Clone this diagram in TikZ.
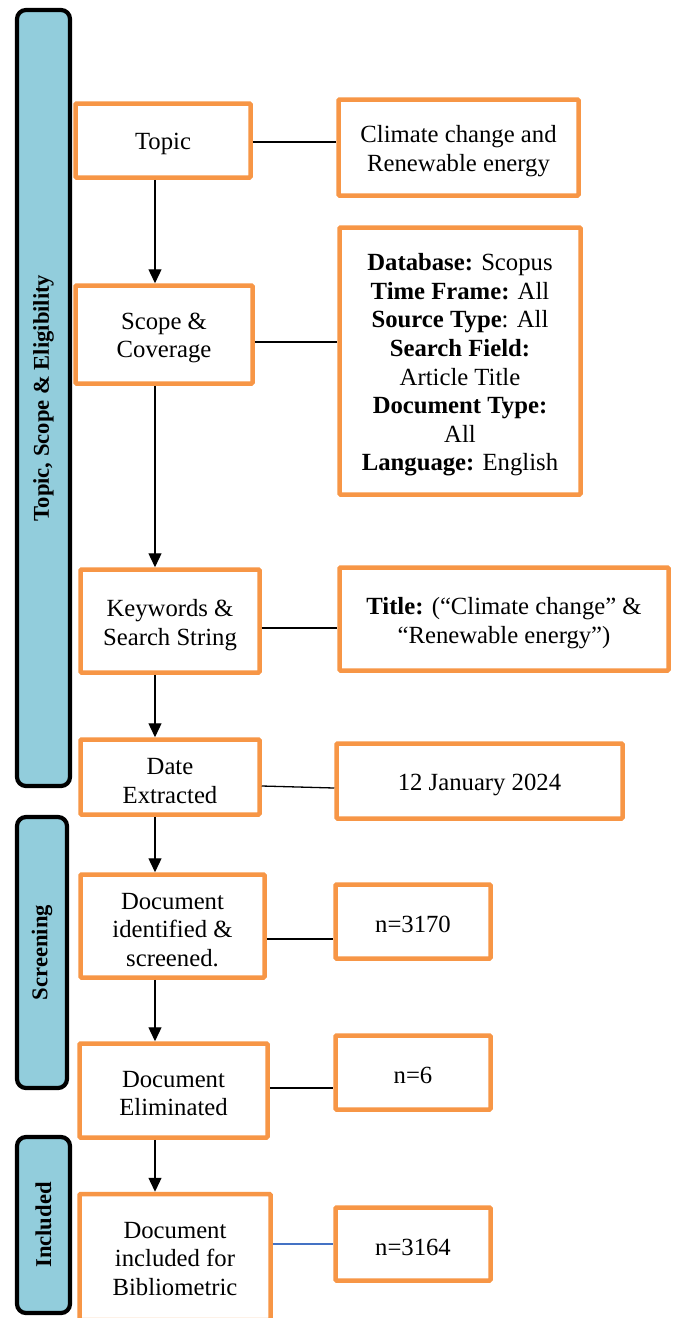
\documentclass[tikz,border=0pt]{standalone}
\usepackage{fontspec}
\setmainfont{Liberation Serif}
\usetikzlibrary{arrows.meta}
\definecolor{boxorange}{HTML}{F79646}
\definecolor{barblue}{HTML}{92CDDC}
\definecolor{linkblue}{HTML}{4472C4}
\begin{document}
\begin{tikzpicture}[x=1pt,y=-1pt,
  obox/.style={draw=boxorange, line width=4.5pt, fill=white, inner sep=0pt, rounded corners=1pt},
  txt/.style={align=center, inner sep=0pt, font=\fontsize{24.7}{28.6}\selectfont},
  sbar/.style={draw=black, line width=4.2pt, fill=barblue, rounded corners=9pt, inner sep=0pt},
  sbtext/.style={rotate=90, inner sep=0pt, font=\bfseries\fontsize{22.6}{26}\selectfont},
  link/.style={draw=black, line width=1.3pt},
  arr/.style={link, -{Triangle[width=13pt,length=14pt]}}]
\useasboundingbox (0,0) rectangle (676,1318);
\clip (0,0) rectangle (676,1318);
\fill[white] (0,0) rectangle (676,1318);

% side bars
\node[sbar, minimum width=53pt, minimum height=776pt] (bar1) at (43.5,398) {};
\node[sbtext] (bar1t) at (bar1.center) {Topic, Scope \& Eligibility};
\node[sbar, minimum width=50pt, minimum height=271pt] (bar2) at (42,952.5) {};
\node[sbtext] (bar2t) at (bar2.center) {Screening};
\node[sbar, minimum width=53pt, minimum height=176pt] (bar3) at (43.5,1225) {};
\node[sbtext] (bar3t) at (bar3.center) {Included};

% left column
\node[obox, minimum width=175pt, minimum height=74pt] (topic) at (163,140.5) {};
\node[txt] (topict) at ([yshift=-3pt]topic.center) {Topic};
\node[obox, minimum width=177pt, minimum height=98pt] (scope) at (164,334.5) {};
\node[txt] (scopet) at ([yshift=-3.5pt]scope.center) {Scope \&\\Coverage};
\node[obox, minimum width=179pt, minimum height=103pt] (kw) at (170,621) {};
\node[txt] (kwt) at ([yshift=-4pt]kw.center) {Keywords \&\\Search String};
\node[obox, minimum width=179pt, minimum height=75pt] (date) at (170,777) {};
\node[txt] (datet) at ([yshift=-4pt]date.center) {Date\\Extracted};
\node[obox, minimum width=184pt, minimum height=103pt] (ident) at (172.5,926) {};
\node[txt] (identt) at ([yshift=-4pt]ident.center) {Document\\identified \&\\screened.};
\node[obox, minimum width=188pt, minimum height=94pt] (elim) at (173.5,1090.5) {};
\node[txt] (elimt) at ([yshift=-3pt]elim.center) {Document\\Eliminated};
\node[obox, minimum width=191pt, minimum height=126pt] (incl) at (175,1257) {};
\node[txt] (inclt) at ([yshift=-2pt]incl.center) {Document\\included for\\Bibliometric};

% right column
\node[obox, minimum width=240pt, minimum height=96pt] (climate) at (458.5,147.5) {};
\node[txt] (climatet) at ([yshift=-3.5pt]climate.center) {Climate change and\\Renewable energy};
\node[obox, minimum width=241pt, minimum height=267pt] (db) at (460,361) {};
\node[txt] (dbt) at ([yshift=-4pt]db.center)
  {\textbf{Database:} Scopus\\\textbf{Time Frame:} All\\\textbf{Source Type}: All\\\textbf{Search Field:}\\Article Title\\\textbf{Document Type:}\\All\\\textbf{Language:} English};
\node[obox, minimum width=329pt, minimum height=103pt] (title) at (504,619) {};
\node[txt] (titlet) at ([yshift=-4pt]title.center)
  {\textbf{Title:} (“Climate change” \&\\“Renewable energy”)};
\node[obox, minimum width=286pt, minimum height=75pt] (jan) at (479.5,781) {};
\node[txt] (jant) at ([yshift=-3.5pt]jan.center) {12 January 2024};
\node[obox, minimum width=155pt, minimum height=74pt] (n1) at (413,921.5) {};
\node[txt] (n1t) at ([yshift=-3pt]n1.center) {n=3170};
\node[obox, minimum width=155pt, minimum height=74pt] (n2) at (413,1072.5) {};
\node[txt] (n2t) at ([yshift=-3pt]n2.center) {n=6};
\node[obox, minimum width=155pt, minimum height=73pt] (n3) at (413,1244) {};
\node[txt] (n3t) at ([yshift=-3pt]n3.center) {n=3164};

% vertical arrows
\coordinate (ax) at (155,0);
\draw[arr] (topic.south -| ax) -- (scope.north -| ax);
\draw[arr] (scope.south -| ax) -- (kw.north -| ax);
\draw[arr] (kw.south -| ax) -- (date.north -| ax);
\draw[arr] (date.south -| ax) -- (ident.north -| ax);
\draw[arr] (ident.south -| ax) -- (elim.north -| ax);
\draw[arr] (elim.south -| ax) -- (incl.north -| ax);

% horizontal connectors
\draw[link] ([yshift=-1.5pt]topic.east) -- ([yshift=-1.5pt]topic.east -| climate.west);
\draw[link] ([yshift=-7.5pt]scope.east) -- ([yshift=-7.5pt]scope.east -| db.west);
\draw[link] ([yshift=-7pt]kw.east) -- ([yshift=-7pt]kw.east -| title.west);
\draw[link] ([yshift=-9pt]date.east) -- ([yshift=-11pt]date.east -| jan.west);
\draw[link] ([yshift=-13pt]ident.east) -- ([yshift=-13pt]ident.east -| n1.west);
\draw[link] ([yshift=2.5pt]elim.east) -- ([yshift=2.5pt]elim.east -| n2.west);
\draw[draw=linkblue, line width=1.2pt] ([yshift=13pt]incl.east) -- ([yshift=13pt]incl.east -| n3.west);
\end{tikzpicture}
\end{document}
